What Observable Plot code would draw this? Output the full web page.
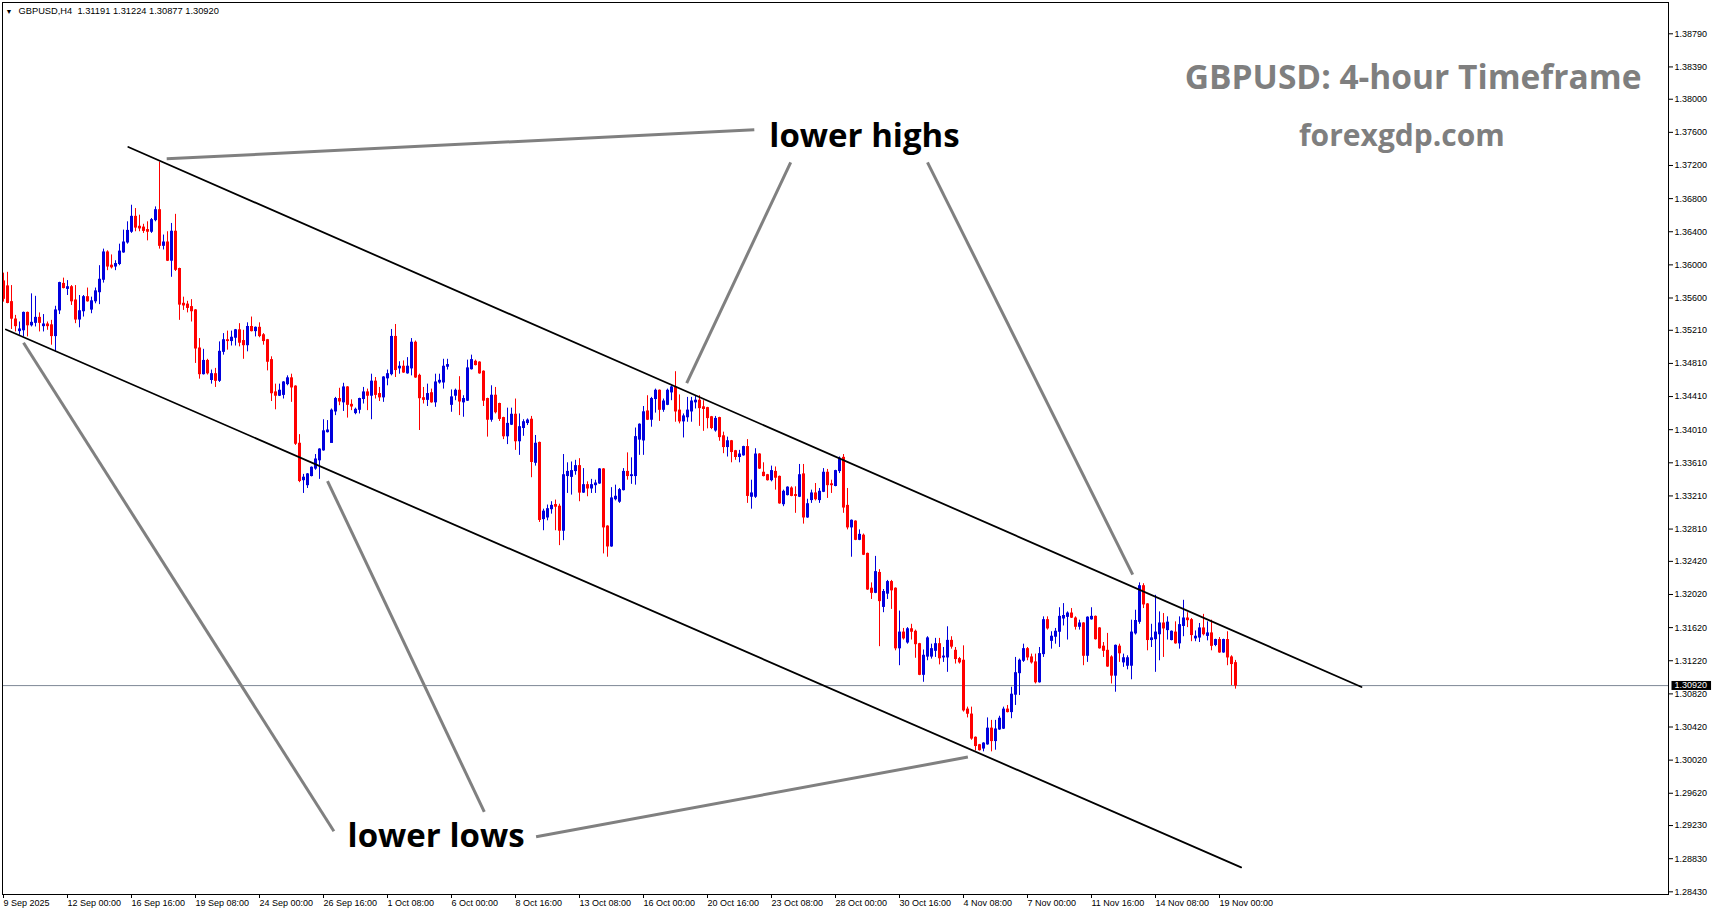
<!DOCTYPE html>
<html>
<head>
<meta charset="utf-8">
<script src="https://cdn.jsdelivr.net/npm/d3@7"></script>
<script src="https://cdn.jsdelivr.net/npm/@observablehq/plot@0.6"></script>
<style>
html,body{margin:0;padding:0;background:#fff;overflow:hidden}
#chart svg{display:block}
</style>
</head>
<body>
<div id="chart"></div>
<script>
// ---- GBPUSD H4 candles (bar 0 = 9 Sep 2025 08:00, one bar per 4 hours) ----
const opens = [
1.3580,1.3574,1.3555,1.3534,1.3520,1.3521,1.3542,1.3527,1.3530,1.3536,
1.3526,1.3528,1.3527,1.3514,1.3545,1.3577,1.3571,1.3573,1.3557,1.3534,
1.3544,1.3561,1.3546,1.3556,1.3567,1.3582,1.3615,1.3599,1.3598,1.3601,
1.3615,1.3627,1.3640,1.3658,1.3646,1.3645,1.3642,1.3640,1.3654,1.3666,
1.3623,1.3627,1.3605,1.3640,1.3595,1.3553,1.3552,1.3549,1.3545,1.3499,
1.3468,1.3484,1.3461,1.3468,1.3460,1.3495,1.3509,1.3508,1.3512,1.3521,
1.3508,1.3503,1.3525,1.3520,1.3524,1.3515,1.3509,1.3485,1.3446,1.3442,
1.3443,1.3456,1.3463,1.3453,1.3384,1.3340,1.3334,1.3345,1.3354,1.3364,
1.3376,1.3398,1.3385,1.3423,1.3438,1.3434,1.3452,1.3431,1.3421,1.3425,
1.3438,1.3446,1.3442,1.3459,1.3444,1.3440,1.3463,1.3468,1.3513,1.3475,
1.3477,1.3469,1.3475,1.3506,1.3466,1.3439,1.3437,1.3445,1.3434,1.3458,
1.3458,1.3477,1.3431,1.3442,1.3448,1.3434,1.3436,1.3474,1.3483,1.3482,
1.3471,1.3438,1.3413,1.3442,1.3432,1.3415,1.3393,1.3407,1.3419,1.3387,
1.3403,1.3409,1.3413,1.3361,1.3385,1.3293,1.3295,1.3305,1.3310,1.3308,
1.3279,1.3345,1.3344,1.3351,1.3357,1.3325,1.3334,1.3330,1.3334,1.3336,
1.3353,1.3284,1.3260,1.3317,1.3314,1.3328,1.3350,1.3345,1.3345,1.3389,
1.3388,1.3423,1.3413,1.3438,1.3448,1.3425,1.3431,1.3446,1.3452,1.3424,
1.3411,1.3416,1.3423,1.3434,1.3436,1.3428,1.3427,1.3416,1.3400,1.3415,
1.3393,1.3380,1.3387,1.3375,1.3368,1.3370,1.3380,1.3320,1.3320,1.3371,
1.3349,1.3346,1.3340,1.3350,1.3344,1.3311,1.3322,1.3330,1.3322,1.3320,
1.3347,1.3295,1.3316,1.3324,1.3316,1.3326,1.3349,1.3335,1.3333,1.3351,
1.3367,1.3309,1.3283,1.3290,1.3268,1.3273,1.3251,1.3209,1.3204,1.3228,
1.3187,1.3203,1.3217,1.3209,1.3137,1.3156,1.3144,1.3160,1.3157,1.3142,
1.3105,1.3127,1.3127,1.3134,1.3142,1.3126,1.3126,1.3146,1.3134,1.3124,
1.3122,1.3063,1.3057,1.3029,1.3020,1.3016,1.3021,1.3040,1.3025,1.3039,
1.3040,1.3063,1.3060,1.3081,1.3107,1.3122,1.3136,1.3126,1.3120,1.3096,
1.3130,1.3171,1.3146,1.3151,1.3157,1.3173,1.3175,1.3179,1.3173,1.3163,
1.3167,1.3128,1.3172,1.3175,1.3161,1.3139,1.3134,1.3126,1.3104,1.3139,
1.3120,1.3116,1.3116,1.3155,1.3169,1.3212,1.3190,1.3147,1.3148,1.3154,
1.3167,1.3159,1.3147,1.3156,1.3143,1.3164,1.3173,1.3171,1.3149,1.3150,
1.3161,1.3152,1.3155,1.3141,1.3147,1.3132,1.3147,1.3126,1.31191
];
const highs = [
1.3590,1.3591,1.3575,1.3539,1.3531,1.3543,1.3543,1.3565,1.3562,1.3542,
1.3540,1.3531,1.3533,1.3550,1.3579,1.3584,1.3581,1.3575,1.3575,1.3563,
1.3563,1.3572,1.3561,1.3572,1.3599,1.3619,1.3617,1.3612,1.3605,1.3625,
1.3642,1.3652,1.3672,1.3668,1.3660,1.3649,1.3652,1.3656,1.3670,1.3724,
1.3636,1.3640,1.3650,1.3661,1.3596,1.3561,1.3556,1.3558,1.3546,1.3511,
1.3498,1.3486,1.3473,1.3475,1.3507,1.3517,1.3520,1.3520,1.3522,1.3529,
1.3521,1.3530,1.3537,1.3525,1.3530,1.3517,1.3510,1.3489,1.3456,1.3456,
1.3459,1.3466,1.3468,1.3454,1.3395,1.3347,1.3348,1.3356,1.3371,1.3378,
1.3413,1.3412,1.3426,1.3440,1.3451,1.3457,1.3453,1.3437,1.3427,1.3439,
1.3452,1.3450,1.3468,1.3464,1.3452,1.3465,1.3473,1.3522,1.3528,1.3483,
1.3484,1.3488,1.3511,1.3508,1.3468,1.3452,1.3456,1.3450,1.3468,1.3468,
1.3486,1.3486,1.3449,1.3450,1.3465,1.3442,1.3485,1.3491,1.3485,1.3483,
1.3472,1.3439,1.3454,1.3452,1.3433,1.3416,1.3427,1.3427,1.3438,1.3420,
1.3413,1.3414,1.3417,1.3394,1.3386,1.3305,1.3310,1.3314,1.3316,1.3311,
1.3371,1.3361,1.3362,1.3364,1.3366,1.3354,1.3338,1.3341,1.3340,1.3354,
1.3354,1.3285,1.3331,1.3334,1.3330,1.3354,1.3373,1.3367,1.3403,1.3408,
1.3429,1.3442,1.3440,1.3450,1.3449,1.3438,1.3450,1.3454,1.3471,1.3443,
1.3420,1.3440,1.3440,1.3442,1.3442,1.3436,1.3428,1.3417,1.3417,1.3416,
1.3398,1.3392,1.3388,1.3376,1.3376,1.3381,1.3389,1.3340,1.3378,1.3372,
1.3361,1.3347,1.3357,1.3356,1.3345,1.3328,1.3332,1.3332,1.3332,1.3359,
1.3359,1.3317,1.3328,1.3336,1.3330,1.3354,1.3353,1.3340,1.3352,1.3368,
1.3371,1.3330,1.3292,1.3291,1.3280,1.3275,1.3252,1.3216,1.3248,1.3232,
1.3208,1.3219,1.3219,1.3210,1.3182,1.3161,1.3162,1.3166,1.3159,1.3143,
1.3135,1.3151,1.3142,1.3149,1.3149,1.3138,1.3163,1.3151,1.3138,1.3126,
1.3140,1.3066,1.3066,1.3030,1.3021,1.3023,1.3053,1.3050,1.3050,1.3055,
1.3066,1.3068,1.3090,1.3126,1.3124,1.3142,1.3138,1.3130,1.3130,1.3138,
1.3175,1.3175,1.3157,1.3161,1.3186,1.3191,1.3181,1.3185,1.3175,1.3171,
1.3168,1.3175,1.3186,1.3176,1.3162,1.3144,1.3155,1.3128,1.3141,1.3142,
1.3130,1.3128,1.3171,1.3183,1.3216,1.3215,1.3191,1.3166,1.3201,1.3181,
1.3179,1.3175,1.3158,1.3169,1.3175,1.3195,1.3180,1.3173,1.3158,1.3167,
1.3178,1.3169,1.3171,1.3148,1.3150,1.3148,1.3157,1.3128,1.31224
];
const lows = [
1.3555,1.3553,1.3522,1.3519,1.3515,1.3513,1.3513,1.3525,1.3525,1.3519,
1.3519,1.3521,1.3503,1.3495,1.3540,1.3571,1.3563,1.3551,1.3529,1.3524,
1.3537,1.3555,1.3541,1.3553,1.3552,1.3578,1.3593,1.3595,1.3593,1.3599,
1.3614,1.3625,1.3638,1.3640,1.3640,1.3638,1.3629,1.3638,1.3652,1.3619,
1.3618,1.3604,1.3585,1.3592,1.3533,1.3545,1.3542,1.3531,1.3481,1.3462,
1.3467,1.3467,1.3456,1.3452,1.3458,1.3491,1.3497,1.3502,1.3502,1.3501,
1.3486,1.3495,1.3519,1.3513,1.3512,1.3503,1.3472,1.3435,1.3425,1.3441,
1.3438,1.3454,1.3434,1.3382,1.3337,1.3324,1.3330,1.3344,1.3352,1.3341,
1.3375,1.3397,1.3385,1.3418,1.3430,1.3423,1.3415,1.3424,1.3419,1.3420,
1.3432,1.3424,1.3413,1.3438,1.3435,1.3434,1.3454,1.3466,1.3464,1.3468,
1.3469,1.3468,1.3466,1.3463,1.3400,1.3432,1.3429,1.3433,1.3428,1.3456,
1.3450,1.3473,1.3422,1.3436,1.3418,1.3416,1.3435,1.3473,1.3478,1.3468,
1.3429,1.3392,1.3410,1.3420,1.3411,1.3389,1.3383,1.3406,1.3376,1.3370,
1.3393,1.3406,1.3343,1.3357,1.3289,1.3279,1.3291,1.3299,1.3279,1.3261,
1.3267,1.3324,1.3322,1.3346,1.3314,1.3324,1.3320,1.3324,1.3324,1.3335,
1.3251,1.3247,1.3259,1.3315,1.3312,1.3327,1.3340,1.3335,1.3334,1.3370,
1.3370,1.3412,1.3404,1.3421,1.3411,1.3422,1.3430,1.3436,1.3410,1.3408,
1.3391,1.3410,1.3410,1.3426,1.3405,1.3399,1.3402,1.3401,1.3398,1.3387,
1.3372,1.3368,1.3361,1.3364,1.3361,1.3369,1.3312,1.3305,1.3318,1.3353,
1.3344,1.3339,1.3338,1.3328,1.3311,1.3308,1.3321,1.3320,1.3300,1.3319,
1.3287,1.3294,1.3312,1.3315,1.3312,1.3325,1.3318,1.3324,1.3332,1.3348,
1.3300,1.3280,1.3247,1.3267,1.3267,1.3249,1.3207,1.3196,1.3203,1.3139,
1.3180,1.3196,1.3184,1.3134,1.3116,1.3147,1.3142,1.3147,1.3125,1.3104,
1.3096,1.3122,1.3124,1.3126,1.3117,1.3120,1.3108,1.3136,1.3118,1.3118,
1.3060,1.3053,1.3026,1.3013,1.3013,1.3012,1.3020,1.3012,1.3014,1.3038,
1.3039,1.3059,1.3052,1.3068,1.3080,1.3120,1.3122,1.3118,1.3094,1.3095,
1.3126,1.3159,1.3136,1.3142,1.3138,1.3164,1.3147,1.3173,1.3159,1.3159,
1.3116,1.3120,1.3171,1.3147,1.3136,1.3126,1.3114,1.3094,1.3084,1.3120,
1.3114,1.3111,1.3099,1.3153,1.3166,1.3185,1.3134,1.3138,1.3108,1.3122,
1.3126,1.3147,1.3146,1.3142,1.3136,1.3151,1.3162,1.3145,1.3145,1.3144,
1.3152,1.3146,1.3134,1.3139,1.3131,1.3131,1.3116,1.3092,1.30877
];
const closes = [
1.3559,1.3554,1.3535,1.3526,1.3522,1.3542,1.3527,1.3530,1.3536,1.3530,
1.3528,1.3526,1.3514,1.3545,1.3578,1.3572,1.3573,1.3556,1.3534,1.3544,
1.3561,1.3556,1.3556,1.3568,1.3582,1.3615,1.3598,1.3597,1.3601,1.3616,
1.3627,1.3641,1.3658,1.3645,1.3644,1.3641,1.3640,1.3654,1.3666,1.3623,
1.3627,1.3605,1.3640,1.3594,1.3552,1.3551,1.3548,1.3544,1.3499,1.3468,
1.3484,1.3469,1.3468,1.3460,1.3495,1.3509,1.3508,1.3512,1.3521,1.3506,
1.3503,1.3525,1.3520,1.3524,1.3514,1.3508,1.3483,1.3445,1.3442,1.3448,
1.3458,1.3463,1.3452,1.3384,1.3339,1.3343,1.3347,1.3355,1.3365,1.3377,
1.3399,1.3400,1.3424,1.3438,1.3435,1.3452,1.3431,1.3429,1.3425,1.3438,
1.3446,1.3442,1.3459,1.3443,1.3440,1.3464,1.3468,1.3513,1.3473,1.3477,
1.3470,1.3477,1.3506,1.3464,1.3439,1.3437,1.3444,1.3434,1.3458,1.3460,
1.3477,1.3479,1.3440,1.3448,1.3435,1.3438,1.3475,1.3485,1.3479,1.3469,
1.3436,1.3413,1.3442,1.3422,1.3414,1.3393,1.3408,1.3419,1.3387,1.3404,
1.3410,1.3412,1.3362,1.3384,1.3292,1.3302,1.3305,1.3309,1.3308,1.3279,
1.3346,1.3350,1.3351,1.3357,1.3325,1.3334,1.3330,1.3334,1.3336,1.3353,
1.3283,1.3260,1.3318,1.3320,1.3328,1.3350,1.3345,1.3346,1.3392,1.3407,
1.3422,1.3413,1.3438,1.3448,1.3425,1.3435,1.3448,1.3452,1.3423,1.3411,
1.3417,1.3424,1.3435,1.3436,1.3427,1.3426,1.3415,1.3403,1.3414,1.3392,
1.3380,1.3387,1.3374,1.3368,1.3371,1.3380,1.3321,1.3324,1.3371,1.3354,
1.3345,1.3340,1.3351,1.3343,1.3312,1.3326,1.3331,1.3321,1.3321,1.3346,
1.3295,1.3311,1.3324,1.3317,1.3326,1.3349,1.3334,1.3334,1.3351,1.3366,
1.3307,1.3283,1.3291,1.3268,1.3274,1.3250,1.3208,1.3204,1.3229,1.3194,
1.3205,1.3217,1.3207,1.3137,1.3156,1.3149,1.3160,1.3157,1.3142,1.3105,
1.3128,1.3149,1.3136,1.3142,1.3125,1.3127,1.3146,1.3139,1.3124,1.3120,
1.3062,1.3058,1.3028,1.3019,1.3014,1.3022,1.3040,1.3025,1.3039,1.3052,
1.3063,1.3060,1.3081,1.3107,1.3122,1.3136,1.3126,1.3120,1.3096,1.3130,
1.3171,1.3161,1.3151,1.3157,1.3175,1.3176,1.3179,1.3174,1.3163,1.3167,
1.3128,1.3174,1.3175,1.3148,1.3137,1.3134,1.3115,1.3104,1.3140,1.3131,
1.3125,1.3125,1.3156,1.3170,1.3212,1.3190,1.3147,1.3149,1.3156,1.3167,
1.3161,1.3168,1.3157,1.3143,1.3165,1.3173,1.3171,1.3153,1.3151,1.3161,
1.3154,1.3155,1.3140,1.3147,1.3132,1.3147,1.3126,1.3118,1.30920
];

// ---- axis ticks ----
const xTickBars = [0,16,32,48,64,80,96,112,128,144,160,176,192,208,224,240,256,272,288,304];
const xTickLabels = ["9 Sep 2025","12 Sep 00:00","16 Sep 16:00","19 Sep 08:00","24 Sep 00:00","26 Sep 16:00",
  "1 Oct 08:00","6 Oct 00:00","8 Oct 16:00","13 Oct 08:00","16 Oct 00:00","20 Oct 16:00","23 Oct 08:00",
  "28 Oct 00:00","30 Oct 16:00","4 Nov 08:00","7 Nov 00:00","11 Nov 16:00","14 Nov 08:00","19 Nov 00:00"];
const yTickValues = [1.38790,1.38390,1.38000,1.37600,1.37200,1.36800,1.36400,1.36000,1.35600,1.35210,
  1.34810,1.34410,1.34010,1.33610,1.33210,1.32810,1.32420,1.32020,1.31620,1.31220,1.30820,1.30420,
  1.30020,1.29620,1.29230,1.28830,1.28430];
const visibleBars = [-0.25, 416.25];
const visiblePrices = [1.283976, 1.391679];

// ---- drawn objects (bar index, price) ----
const channelUpper = [[31.2, 1.37423], [339.5, 1.30903]];
const channelLower = [[0.6, 1.35220], [309.4, 1.28726]];
const pointerLines = [
  [40.8, 1.37280, 187.7, 1.37632],
  [196.8, 1.37238, 170.8, 1.34572],
  [231.0, 1.37238, 282.3, 1.32260],
  [5.0, 1.35060, 82.6, 1.29161],
  [81.0, 1.33390, 120.2, 1.29394],
  [133.15, 1.29095, 241.1, 1.30057]
];
const annotations = [
  {bar: 215.25, price: 1.37549, text: "lower highs", size: 33, color: "#000000"},
  {bar: 108.15, price: 1.29100, text: "lower lows", size: 33, color: "#000000"},
  {bar: 352.4, price: 1.38255, text: "GBPUSD: 4-hour Timeframe", size: 33.5, color: "#7f7f7f"},
  {bar: 349.6, price: 1.37557, text: "forexgdp.com", size: 30, color: "#7f7f7f"}
];
const headerText = "GBPUSD,H4  1.31191 1.31224 1.30877 1.30920";
const lastPrice = closes[closes.length - 1];

const UP = "#0000dd", DOWN = "#ff0000";
const candles = closes.map((c, i) => ({i, open: opens[i], high: highs[i], low: lows[i], close: c, col: c >= opens[i] ? UP : DOWN}));

const chart = Plot.plot({
  width: 1714,
  height: 915,
  marginTop: 2,
  marginLeft: 2,
  marginRight: 46,
  marginBottom: 21,
  x: {domain: visibleBars},
  y: {domain: visiblePrices},
  color: {type: "identity"},
  style: {fontFamily: "'Liberation Sans', Arial, sans-serif", fontSize: "9px", background: "#ffffff", color: "#000000"},
  marks: [
    Plot.ruleY([lastPrice], {stroke: "#7d8796", strokeWidth: 1}),
    Plot.ruleX(candles, {x: "i", y1: "low", y2: "high", stroke: "col", strokeWidth: 1}),
    Plot.rect(candles, {x1: d => d.i - 0.25, x2: d => d.i + 0.5, y1: "open", y2: "close", fill: "col", insetTop: -0.5, insetBottom: -0.5}),
    Plot.line(channelUpper, {x: d => d[0], y: d => d[1], stroke: "#000000", strokeWidth: 1.8}),
    Plot.line(channelLower, {x: d => d[0], y: d => d[1], stroke: "#000000", strokeWidth: 1.8}),
    Plot.link(pointerLines, {x1: d => d[0], y1: d => d[1], x2: d => d[2], y2: d => d[3], stroke: "#808080", strokeWidth: 3}),
    Plot.text(annotations, {x: "bar", y: "price", text: "text", fontSize: d => d.size, fill: "color",
      fontFamily: "'Open Sans', sans-serif", fontWeight: 700, textAnchor: "middle", lineAnchor: "middle"}),
    Plot.text(["\u25BC"], {text: d => d, frameAnchor: "top-left", dx: 6.5, dy: 9, fontSize: 7, textAnchor: "middle", lineAnchor: "middle", fill: "#000"}),
    Plot.text([headerText], {text: d => d, frameAnchor: "top-left", dx: 16, dy: 9, fontSize: 9.3, textAnchor: "start", lineAnchor: "middle", fill: "#000"}),
    Plot.axisY(yTickValues, {anchor: "right", tickSize: 4, tickPadding: 2, tickFormat: d => d.toFixed(5), label: null, fontSize: 9}),
    Plot.axisX(xTickBars, {anchor: "bottom", tickSize: 4, tickPadding: 1, textAnchor: "start", tickFormat: d => xTickLabels[xTickBars.indexOf(d)], label: null, fontSize: 9}),
    Plot.frame({stroke: "#000000"}),
    Plot.text([lastPrice], {y: d => d, text: d => d.toFixed(5), frameAnchor: "right", dx: 6, textAnchor: "start", lineAnchor: "middle", fill: "#ffffff", fontSize: 9})
  ]
});
document.getElementById("chart").append(chart);

// black box behind the current price label on the price axis
const label = lastPrice.toFixed(5);
const texts = Array.from(chart.querySelectorAll("text")).filter(t => t.textContent === label);
const t = texts[texts.length - 1];
if (t) {
  const b = t.getBBox();
  const r = document.createElementNS("http://www.w3.org/2000/svg", "rect");
  r.setAttribute("x", b.x - 3);
  r.setAttribute("y", b.y + 0.5);
  r.setAttribute("width", b.width + 7);
  r.setAttribute("height", Math.max(b.height - 1, 9));
  r.setAttribute("fill", "#000000");
  if (t.getAttribute("transform")) r.setAttribute("transform", t.getAttribute("transform"));
  t.parentNode.insertBefore(r, t);
  t.setAttribute("fill", "#ffffff");
}
</script>
</body>
</html>
